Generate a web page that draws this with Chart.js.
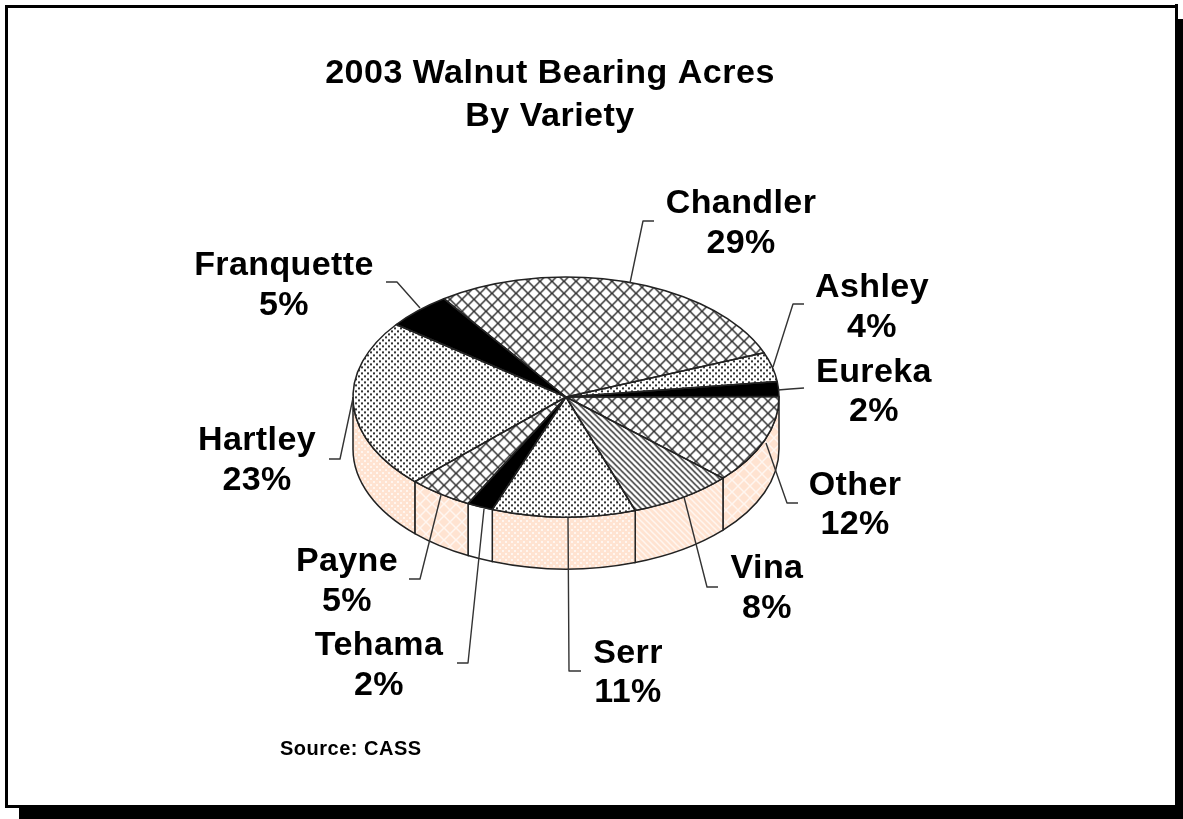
<!DOCTYPE html>
<html><head><meta charset="utf-8">
<style>html,body{margin:0;padding:0;background:#fff}canvas{display:block}</style>
<script src="https://cdn.jsdelivr.net/npm/chart.js@4"></script>
</head><body><canvas id="c" width="1183" height="819"></canvas>
<script>
const titleLines = ['2003 Walnut Bearing Acres', 'By Variety'];
const sourceNote = 'Source: CASS';
const varieties = ['Chandler','Ashley','Eureka','Other','Vina','Serr','Tehama','Payne','Hartley','Franquette'];
const sharePercent = [29,4,2,12,8,11,2,5,23,5];
const hatchKinds = ['cross','dots','solid','cross','stripes','dots','solid','cross','dots','solid'];

// layout only: label centre x, name baseline, percent baseline, leader elbow and leader end
const labelLayout = [
 {x:741,y:213,y2:253, lead:[[630,283],[643,221],[654,221]]},
 {x:872,y:297,y2:337, lead:[[773,367],[793,304],[804,304]]},
 {x:874,y:382,y2:421, lead:[[778,390],[790,389],[804,388]]},
 {x:855,y:495,y2:534, lead:[[766,443],[787,503],[798,503]]},
 {x:767,y:578,y2:618, lead:[[684,497],[707,587],[718,587]]},
 {x:628,y:663,y2:702, lead:[[568,517],[569,671],[581,671]]},
 {x:379,y:655,y2:695, lead:[[484,509],[468,663],[457,663]]},
 {x:347,y:571,y2:611, lead:[[441,495],[420,579],[409,579]]},
 {x:257,y:450,y2:490, lead:[[353,398],[340,459],[329,459]]},
 {x:284,y:275,y2:315, lead:[[420,308],[397,282],[386,282]]}
];
const RY = 120, DEPTH = 52, INK = '#222', WALL = '#ffe3d1';
const FONT = 'bold 34px "Liberation Sans", Arial, sans-serif';

function tile(size, bg, draw){
  const t = document.createElement('canvas'); t.width = t.height = size;
  const g = t.getContext('2d');
  g.fillStyle = bg; g.fillRect(0,0,size,size);
  draw(g,size);
  return t;
}
function hatch(kind, bg, fg){
  if(kind==='cross') return tile(12,bg,(g,s)=>{g.strokeStyle=fg;g.lineWidth=1.5;
    [[-1,-1,s+1,s+1],[-1,s+1,s+1,-1]].forEach(l=>{g.beginPath();g.moveTo(l[0],l[1]);g.lineTo(l[2],l[3]);g.stroke();});});
  if(kind==='dots') return tile(6,bg,(g,s)=>{g.fillStyle=fg;g.fillRect(1,1,2,2);g.fillRect(4,4,2,2);});
  if(kind==='stripes') return tile(6,bg,(g,s)=>{g.strokeStyle=fg;g.lineWidth=1.5;
    [[-1,-1,s+1,s+1],[-s-1,-1,1,s+1],[s-1,-1,2*s+1,s+1]].forEach(l=>{g.beginPath();g.moveTo(l[0],l[1]);g.lineTo(l[2],l[3]);g.stroke();});});
  return null;
}
const ctx0 = document.getElementById('c').getContext('2d');
function topFill(kind){
  if(kind==='solid') return '#000';
  const p = ctx0.createPattern(hatch(kind,'#fff','#333'),'repeat');
  p.setTransform(new DOMMatrix().scale(1,213/RY));
  return p;
}
function wallFill(kind){
  if(kind==='solid') return '#fff';
  return ctx0.createPattern(hatch(kind,WALL,'#fff6f0'),'repeat');
}
const wallFills = hatchKinds.map(wallFill);

const pie3d = {
  id:'pie3d',
  beforeDraw(chart){
    const c = chart.ctx;
    c.save();
    c.fillStyle='#fff'; c.fillRect(0,0,1183,819);
    c.fillStyle='#000';
    c.fillRect(19,807,1164,12);
    c.fillRect(1178,19,5,800);
    c.fillRect(5,5,1173,3);
    c.fillRect(5,805,1173,3);
    c.fillRect(5,5,3,803);
    c.fillRect(1175,4,3,804);
    c.restore();
  },
  beforeDatasetsDraw(chart){
    const c = chart.ctx, arcs = chart.getDatasetMeta(0).data;
    c.save();
    c.strokeStyle = INK; c.lineWidth = 1.5;
    arcs.forEach((a,i)=>{
      [0,2*Math.PI].forEach(k=>{
        const s=Math.max(a.startAngle+k,0), e=Math.min(a.endAngle+k,Math.PI);
        if(e<=s) return;
        const rx=a.outerRadius;
        c.beginPath();
        c.ellipse(a.x,a.y,rx,RY,0,s,e);
        c.ellipse(a.x,a.y+DEPTH,rx,RY,0,e,s,true);
        c.closePath();
        c.fillStyle=wallFills[i]; c.fill(); c.stroke();
      });
    });
    c.restore();
    const a=arcs[0], k=RY/a.outerRadius;
    c.save();
    c.translate(a.x,a.y); c.scale(1,k); c.translate(-a.x,-a.y);
  },
  afterDatasetsDraw(chart){
    const c = chart.ctx, arcs = chart.getDatasetMeta(0).data;
    c.restore();
    c.save();
    c.strokeStyle = INK; c.lineWidth = 1.5; c.lineJoin='round';
    arcs.forEach(a=>{
      c.beginPath();
      c.moveTo(a.x,a.y);
      c.ellipse(a.x,a.y,a.outerRadius,RY,0,a.startAngle,a.endAngle);
      c.closePath(); c.stroke();
    });
    // leader lines
    c.strokeStyle='#333'; c.lineWidth=1.4;
    labelLayout.forEach(l=>{
      c.beginPath();
      l.lead.forEach((p,j)=> j? c.lineTo(p[0],p[1]) : c.moveTo(p[0],p[1]));
      c.stroke();
    });
    // texts
    c.fillStyle='#000'; c.textAlign='center'; c.textBaseline='alphabetic';
    c.font=FONT; c.letterSpacing='0.4px';
    varieties.forEach((v,i)=>{
      const l=labelLayout[i];
      c.fillText(v,l.x,l.y);
      c.fillText(sharePercent[i]+'%',l.x,l.y2);
    });
    c.letterSpacing='0.5px';
    c.fillText(titleLines[0],550,83);
    c.fillText(titleLines[1],550,126);
    c.textAlign='left';
    c.font='bold 20px "Liberation Sans", Arial, sans-serif'; c.letterSpacing='0.5px';
    c.fillText(sourceNote,280,755);
    c.restore();
  }
};

new Chart(ctx0,{
  type:'pie',
  data:{labels:varieties,datasets:[{data:sharePercent,
    backgroundColor:hatchKinds.map(topFill),borderWidth:0,hoverOffset:0}]},
  options:{
    responsive:false,animation:false,rotation:-35,
    layout:{padding:{left:353,right:404,top:184,bottom:209}},
    events:[],
    plugins:{legend:{display:false},tooltip:{enabled:false},title:{display:false}}
  },
  plugins:[pie3d]
});
</script></body></html>
